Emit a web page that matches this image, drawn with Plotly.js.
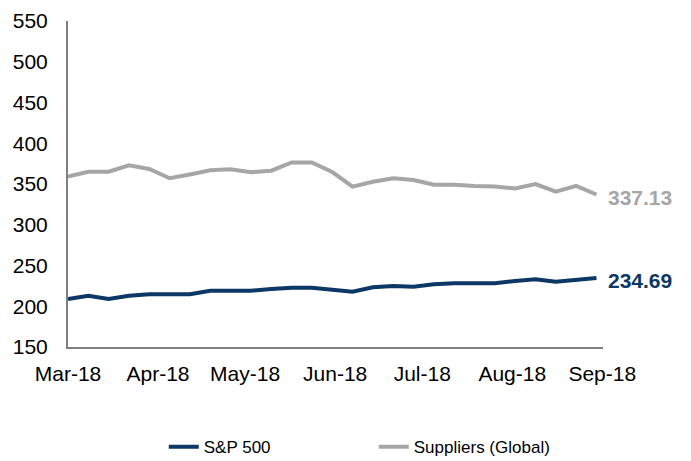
<!DOCTYPE html>
<html>
<head>
<meta charset="utf-8">
<script src="https://cdn.plot.ly/plotly-3.0.1.min.js"></script>
<style>html,body{margin:0;padding:0;background:#fff;}#chart{width:691px;height:461px;}</style>
</head>
<body>
<div id="chart"></div>
<script>
// Weekly dates (Mar-18 to Sep-18)
const dates = ["2018-03-01","2018-03-08","2018-03-15","2018-03-22","2018-03-29","2018-04-05","2018-04-12","2018-04-19","2018-04-26","2018-05-03","2018-05-10","2018-05-17","2018-05-24","2018-05-31","2018-06-07","2018-06-14","2018-06-21","2018-06-28","2018-07-05","2018-07-12","2018-07-19","2018-07-26","2018-08-02","2018-08-09","2018-08-16","2018-08-23","2018-08-30"];
const sp500 = [208.9,212.9,208.9,212.9,214.7,214.7,214.7,219.1,219.1,219.1,221.2,222.8,222.8,220.8,217.9,223.3,224.8,224.0,226.9,228.2,228.2,228.2,231.0,233.1,230.1,232.2,234.69];
const suppliers = [359.0,365.0,365.0,372.9,368.4,357.0,361.7,366.8,368.2,364.4,366.3,376.4,376.4,364.7,346.8,352.8,357.0,354.9,349.1,349.1,347.5,347.0,344.5,349.8,340.6,347.8,337.13];
const seriesNames = ["S&P 500","Suppliers (Global)"];
const tickVals = ["2018-03-01","2018-04-01","2018-05-01","2018-06-01","2018-07-01","2018-08-01","2018-09-01"];
const tickText = ["Mar-18","Apr-18","May-18","Jun-18","Jul-18","Aug-18","Sep-18"];

const navy = "#0C3766";
const gray = "#A6A6A6";
const lastIdx = dates.length - 1;

const traces = [
  {x: dates, y: sp500, name: seriesNames[0], type: "scatter", mode: "lines",
   line: {color: navy, width: 4}},
  {x: dates, y: suppliers, name: seriesNames[1], type: "scatter", mode: "lines",
   line: {color: gray, width: 4}}
];

const layout = {
  width: 691, height: 461,
  margin: {l: 68, r: 88, t: 21, b: 114, autoexpand: false},
  paper_bgcolor: "#fff", plot_bgcolor: "#fff",
  font: {family: "Liberation Sans, Arial, sans-serif", size: 21, color: "#000"},
  showlegend: true,
  legend: {orientation: "h", xref: "container", yref: "container",
           x: 0.237, xanchor: "left", y: 0.03, yanchor: "middle",
           font: {size: 17, color: "#000"}, entrywidth: 165, entrywidthmode: "pixels",
           tracegroupgap: 0, bgcolor: "rgba(0,0,0,0)"},
  xaxis: {type: "date", range: ["2018-03-01", "2018-09-01 06:00"],
          tickvals: tickVals, ticktext: tickText, showgrid: false, zeroline: false,
          showline: true, linecolor: "#808080", linewidth: 2,
          ticks: "", ticklabelstandoff: 7, tickfont: {size: 21}},
  yaxis: {range: [150, 550], dtick: 50, showgrid: false, zeroline: false,
          showline: true, linecolor: "#808080", linewidth: 2,
          ticks: "", ticklabelstandoff: 14, tickfont: {size: 21}},
  annotations: [
    {x: dates[lastIdx], y: suppliers[lastIdx], xref: "x", yref: "y",
     text: "<b>" + suppliers[lastIdx].toFixed(2) + "</b>", showarrow: false,
     xanchor: "left", xshift: 10, yshift: -3, font: {size: 21, color: gray}},
    {x: dates[lastIdx], y: sp500[lastIdx], xref: "x", yref: "y",
     text: "<b>" + sp500[lastIdx].toFixed(2) + "</b>", showarrow: false,
     xanchor: "left", xshift: 10, yshift: -3, font: {size: 21, color: navy}}
  ]
};

Plotly.newPlot("chart", traces, layout, {displayModeBar: false, staticPlot: true});
</script>
</body>
</html>
